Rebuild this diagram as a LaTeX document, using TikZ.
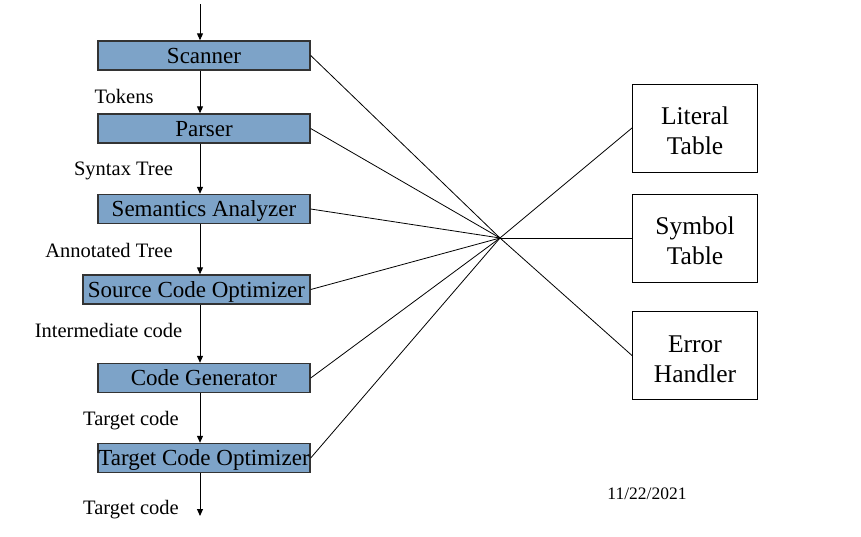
\documentclass[tikz,border=0pt]{standalone}
\usepackage{fontspec}
\setmainfont{Liberation Serif}
\usetikzlibrary{arrows.meta}
\definecolor{boxblue}{HTML}{7DA3C8}
\definecolor{boxedge}{HTML}{333333}
\begin{document}
\begin{tikzpicture}[x=1pt,y=-1pt,
  phase/.style={draw=boxedge,line width=1.4pt,fill=boxblue,inner sep=0pt,
    minimum height=29pt,text depth=0pt,font=\fontsize{23}{26}\selectfont},
  tablebox/.style={draw=black,line width=1pt,fill=white,inner sep=0pt,
    minimum width=125pt,minimum height=88pt,align=center,
    font=\fontsize{25.5}{30}\selectfont},
  lbl/.style={inner sep=0pt,text depth=0pt,font=\fontsize{20.5}{24}\selectfont},
  flow/.style={line width=1pt,-{Triangle[length=7pt,width=6pt]}},
  link/.style={line width=0.8pt}]
\useasboundingbox (0,0) rectangle (861,536);
\fill[white] (0,0) rectangle (861,536);
% left phase boxes
\node[phase,minimum width=212pt] (scan) at (204,55.5) {Scanner};
\node[phase,minimum width=212pt] (parse) at (204,128.5) {Parser};
\node[phase,minimum width=212pt] (sem) at (204,209) {Semantics Analyzer};
\node[phase,minimum width=227pt] (sco) at (196.5,289.5) {Source Code Optimizer};
\node[phase,minimum width=212pt] (cg) at (204,378) {Code Generator};
\node[phase,minimum width=212pt] (tco) at (204,458) {Target Code Optimizer};
% in/out coordinates
\coordinate (in) at (200,4);
\coordinate (out) at (200,516);
\coordinate (hub) at (500,238);
% flow arrows
\draw[flow] (in) -- (in |- scan.north);
\draw[flow] (scan.south -| in) -- (parse.north -| in);
\draw[flow] (parse.south -| in) -- (sem.north -| in);
\draw[flow] (sem.south -| in) -- (sco.north -| in);
\draw[flow] (sco.south -| in) -- (cg.north -| in);
\draw[flow] (cg.south -| in) -- (tco.north -| in);
\draw[flow] (tco.south -| in) -- (out);
% labels
\node[lbl] (l1) at (124,96) {Tokens};
\node[lbl] (l2) at (123.5,169) {Syntax Tree};
\node[lbl] (l3) at (109,250) {Annotated Tree};
\node[lbl] (l4) at (108.5,330) {Intermediate code};
\node[lbl] (l5) at (131,418) {Target code};
\node[lbl] (l6) at (131,507) {Target code};
% right tables
\node[tablebox] (lit) at (695,128) {\rule{0pt}{23.5pt}Literal\\Table};
\node[tablebox] (sym) at (695,238) {\rule{0pt}{23.5pt}Symbol\\Table};
\node[tablebox] (err) at (695,355.5) {\rule{0pt}{23.5pt}Error\\Handler};
% links
\foreach \n in {scan,parse,sem,sco,cg,tco} \draw[link] (\n.east) -- (hub);
\foreach \n in {lit,sym,err} \draw[link] (hub) -- (\n.west);
% date
\node[inner sep=0pt,font=\fontsize{17.5}{20}\selectfont] (date) at (647,494) {11/22/2021};
\end{tikzpicture}
\end{document}
